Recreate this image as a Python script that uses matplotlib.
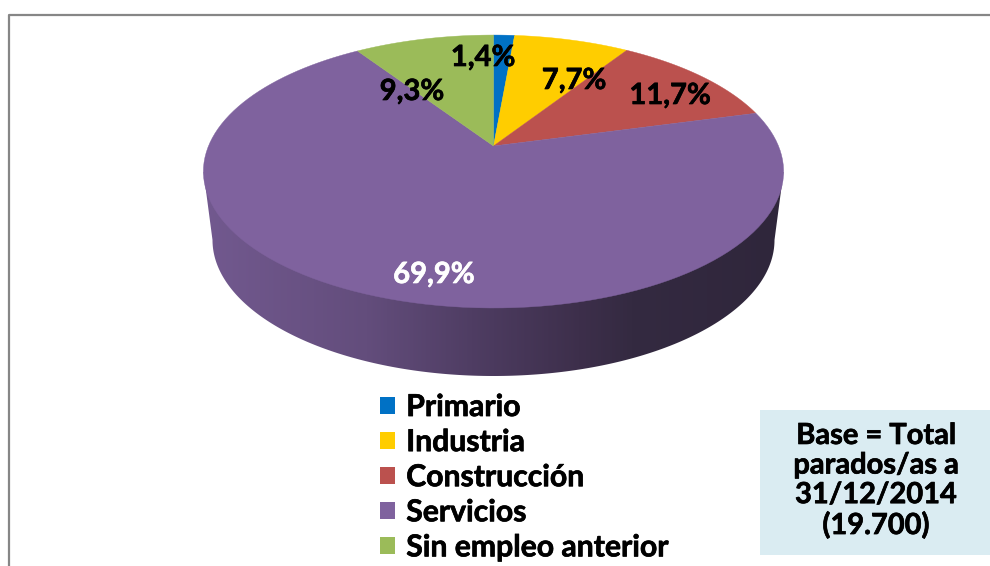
import numpy as np
import matplotlib
matplotlib.use('Agg')
import matplotlib.pyplot as plt
import matplotlib.patheffects as pe
from matplotlib.colors import LinearSegmentedColormap
from matplotlib.patches import Patch, Polygon, Rectangle

categorias = ['Primario', 'Industria', 'Construcción', 'Servicios', 'Sin empleo anterior']
valores = [1.4, 7.7, 11.7, 69.9, 9.3]
etiquetas = ['1,4%', '7,7%', '11,7%', '69,9%', '9,3%']
colores = ['#0071c5', '#ffcd00', '#bb514e', '#7f629e', '#9bbb59']
color_texto = ['black', 'black', 'black', 'white', 'black']
pos_texto = [(483, 58), (574, 81), (670, 96), (434, 275), (412, 92)]
base_texto = 'Base = Total\nparados/as a\n31/12/2014\n(19.700)'

plt.rcParams['font.family'] = ['Lato', 'DejaVu Sans']

# pie seen in perspective, in pixel coords
cx, cy = 493.5, 146
a, b, k = 285, 131.7, 0.187


def proyecta(t):
    # t in radians, clockwise from 12 o'clock
    u, v = np.sin(t), np.cos(t)
    w = 1 + k * v
    return cx + a * u / w, cy - b * v / w


def grueso(color):
    # Lato bold is a bit thin next to the original font
    return [pe.withStroke(linewidth=0.5, foreground=color)]


fig = plt.figure(figsize=(9.9, 5.66), dpi=100)
ax = fig.add_axes([0, 0, 1, 1])
ax.set_xlim(0, 990)
ax.set_ylim(566, 0)
ax.axis('off')

# frame, only top and left are visible
ax.plot([9, 9, 990], [566, 14.5, 14.5], color='#868686', lw=1.6, solid_capstyle='butt')

# wall of the pie
t2 = np.linspace(np.pi / 2, 3 * np.pi / 2, 300)
xb = 493.5 + 281 * np.sin(t2)
yb = 240 - 136 * np.cos(t2)
borde = np.concatenate([np.column_stack([[783.5], [172]]), np.column_stack([xb, yb]),
                        np.column_stack([[203.5], [172]])])
pared = Polygon(np.vstack([borde, [[493, 200]]]), closed=True, transform=ax.transData, fc='none', ec='none')
ax.add_patch(pared)
cmap = LinearSegmentedColormap.from_list('pared', [(0, '#72598f'), (0.28, '#634d7c'), (0.5, '#4b3a5e'),
                                                   (0.65, '#3d2f4b'), (0.74, '#342a41'), (1, '#2f263b')])
img = ax.imshow(np.linspace(0, 1, 300).reshape(1, -1), cmap=cmap, extent=[203, 784, 380, 165],
                aspect='auto', zorder=1)
img.set_clip_path(pared)
ax.set_xlim(0, 990)
ax.set_ylim(566, 0)

# top of the pie
inicio = 0
for valor, color in zip(valores, colores):
    ang = np.linspace(inicio, inicio + valor, 120) / sum(valores) * 2 * np.pi
    x, y = proyecta(ang)
    ax.add_patch(Polygon(np.column_stack([np.r_[cx, x], np.r_[cy, y]]), closed=True,
                         fc=color, ec=color, lw=0.3, zorder=2))
    inicio += valor

for txt, col, (x, y) in zip(etiquetas, color_texto, pos_texto):
    ax.text(x, y, txt, color=col, fontsize=21, fontweight='bold', ha='center', va='center', zorder=3,
            path_effects=grueso(col))

# legend
handles = [Patch(fc=c, ec='none') for c in colores]
leyenda = ax.legend(handles, categorias, loc='upper left', bbox_to_anchor=(374 / 990, 1 - 387 / 566), frameon=False,
                    prop={'family': 'Lato', 'weight': 'bold', 'size': 21.7}, labelspacing=0.235,
                    handlelength=0.5, handleheight=0.5, handletextpad=0.37, borderpad=0.2, borderaxespad=0)
for texto in leyenda.get_texts():
    texto.set_path_effects(grueso('black'))

# base box
ax.add_patch(Rectangle((760, 410), 230, 145, fc='#daecf2', ec='none', zorder=2))
ax.text(876, 481, base_texto, fontsize=20.9, fontweight='bold', ha='center', va='center',
        linespacing=1.17, zorder=3, path_effects=grueso('black'))

fig.savefig('out.png', dpi=100)
